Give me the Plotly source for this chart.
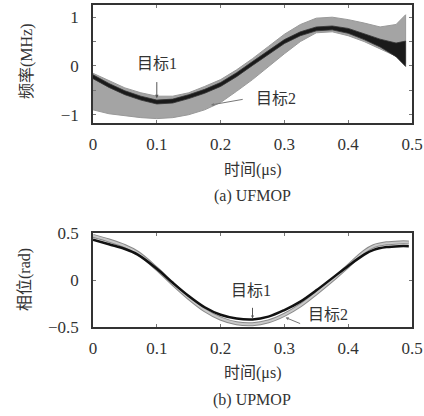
import plotly.graph_objects as go

# ---------- data ----------
# (a) frequency, MHz
t_f = [0, 0.025, 0.05, 0.075, 0.1, 0.125, 0.15, 0.175, 0.2, 0.225, 0.25, 0.275,
       0.3, 0.325, 0.35, 0.375, 0.4, 0.425, 0.45, 0.475, 0.49]
f1_mid = [-0.22, -0.40, -0.55, -0.66, -0.74, -0.72, -0.63, -0.52, -0.38, -0.18, 0.05, 0.28,
          0.50, 0.66, 0.76, 0.78, 0.72, 0.60, 0.47, 0.33, 0.25]
f1_spread = [0.04, 0.04, 0.04, 0.04, 0.04, 0.04, 0.04, 0.04, 0.04, 0.04, 0.04, 0.04,
             0.04, 0.04, 0.04, 0.04, 0.05, 0.06, 0.08, 0.14, 0.26]
f2_upper = [-0.15, -0.30, -0.45, -0.55, -0.62, -0.62, -0.55, -0.42, -0.28, -0.08, 0.15, 0.40,
            0.65, 0.85, 0.98, 1.00, 0.95, 0.88, 0.80, 0.85, 1.05]
f2_lower = [-0.90, -0.98, -1.02, -1.06, -1.08, -1.06, -1.00, -0.90, -0.75, -0.52, -0.28, -0.02,
            0.25, 0.50, 0.68, 0.70, 0.62, 0.50, 0.35, 0.20, 0.05]

# (b) phase, rad
t_p = [0, 0.025, 0.05, 0.07, 0.1, 0.125, 0.15, 0.175, 0.2, 0.225, 0.25, 0.275,
       0.3, 0.325, 0.35, 0.375, 0.4, 0.425, 0.44, 0.46, 0.48, 0.495]
p1 = [0.43, 0.38, 0.33, 0.27, 0.12, -0.03, -0.17, -0.29, -0.37, -0.41, -0.42, -0.39,
      -0.32, -0.23, -0.11, 0.02, 0.15, 0.27, 0.32, 0.35, 0.36, 0.36]
p2 = [0.47, 0.42, 0.36, 0.29, 0.12, -0.04, -0.19, -0.32, -0.41, -0.46, -0.47, -0.44,
      -0.37, -0.27, -0.14, 0.00, 0.15, 0.30, 0.36, 0.39, 0.40, 0.40]

x_ticks = [0, 0.1, 0.2, 0.3, 0.4, 0.5]
x_ticktext = ["0", "0.1", "0.2", "0.3", "0.4", "0.5"]
yf_ticks = [-1, -0.5, 0, 0.5, 1]
yf_ticktext = ["\u22121", "", "0", "", "1"]
yp_ticks = [-0.5, 0, 0.5]
yp_ticktext = ["\u22120.5", "0", "0.5"]

labels = ["目标1", "目标2"]

# ---------- figure ----------
FONT = "Liberation Serif, Noto Sans CJK SC, serif"
GRAY = "#a4a4a4"

fig = go.Figure()

# gray band (目标2), frequency
fig.add_trace(go.Scatter(
    x=t_f + t_f[::-1], y=f2_upper + f2_lower[::-1],
    fill="toself", fillcolor=GRAY, line=dict(color="#999999", width=1),
    mode="lines", xaxis="x", yaxis="y", hoverinfo="skip", name=labels[1]))
# black band (目标1), frequency
f1_up = [m + s for m, s in zip(f1_mid, f1_spread)]
f1_lo = [m - s for m, s in zip(f1_mid, f1_spread)]
fig.add_trace(go.Scatter(
    x=t_f + t_f[::-1], y=f1_up + f1_lo[::-1],
    fill="toself", fillcolor="#1a1a1a", line=dict(color="#333333", width=0.8),
    mode="lines", xaxis="x", yaxis="y", hoverinfo="skip", name=labels[0]))

# phase lines
fig.add_trace(go.Scatter(x=t_p, y=p2, mode="lines",
                         line=dict(color="#8a8a8a", width=4, shape="spline"),
                         xaxis="x2", yaxis="y2", name=labels[1]))
fig.add_trace(go.Scatter(x=t_p, y=p2, mode="lines",
                         line=dict(color="#c8c8c8", width=2, shape="spline"),
                         xaxis="x2", yaxis="y2", name=labels[1]))
fig.add_trace(go.Scatter(x=t_p, y=p1, mode="lines",
                         line=dict(color="#111111", width=2.5, shape="spline"),
                         xaxis="x2", yaxis="y2", name=labels[0]))

axis_common = dict(showline=True, linecolor="#333", linewidth=1.5, mirror="ticks",
                   ticks="inside", ticklen=3, tickcolor="#777", showgrid=False,
                   zeroline=False, tickfont=dict(family=FONT, size=17, color="#333"),
                   automargin=False)

dom_x = [93 / 424, 412 / 424]
fig.update_layout(
    width=424, height=416,
    margin=dict(l=0, r=0, t=0, b=0, autoexpand=False),
    paper_bgcolor="white", plot_bgcolor="white",
    showlegend=False,
    font=dict(family=FONT, color="#333"),
    xaxis=dict(domain=dom_x, range=[0, 0.5], tickvals=x_ticks, ticktext=x_ticktext,
               anchor="y", ticklabeloverflow="allow", ticklabelstandoff=5, **axis_common),
    yaxis=dict(domain=[1 - 123 / 416, 1 - 5 / 416], range=[-1.17, 1.25],
               tickvals=yf_ticks, ticktext=yf_ticktext, anchor="x",
               ticklabelstandoff=9, **axis_common),
    xaxis2=dict(domain=dom_x, range=[0, 0.5], tickvals=x_ticks, ticktext=x_ticktext,
                anchor="y2", ticklabeloverflow="allow", ticklabelstandoff=5, **axis_common),
    yaxis2=dict(domain=[1 - 327 / 416, 1 - 233 / 416], range=[-0.5, 0.5],
                tickvals=yp_ticks, ticktext=yp_ticktext, anchor="x2",
                ticklabelstandoff=9, **axis_common),
)

ann_font = dict(family=FONT, size=16, color="#333")
C = dict(xanchor="center", yanchor="middle", showarrow=False, font=ann_font)
anns = [
    # axis titles and captions
    dict(text="时间(μs)", x=252 / 424, y=1 - 170 / 416, xref="paper", yref="paper", **C),
    dict(text="(a) UFMOP", x=252 / 424, y=1 - 196 / 416, xref="paper", yref="paper", **C),
    dict(text="时间(μs)", x=252 / 424, y=1 - 373 / 416, xref="paper", yref="paper", **C),
    dict(text="(b) UPMOP", x=252 / 424, y=1 - 400 / 416, xref="paper", yref="paper", **C),
    dict(text="频率(MHz)", x=27 / 424, y=1 - 61 / 416, xref="paper", yref="paper",
         textangle=-90, **C),
    dict(text="相位(rad)", x=25 / 424, y=1 - 280 / 416, xref="paper", yref="paper",
         textangle=-90, **C),
    # top labels
    dict(text=labels[0], x=0.1, y=0.06, xref="x", yref="y", **C),
    dict(text="", x=0.1, y=-0.66, ax=0.1, ay=-0.3, xref="x", yref="y", axref="x", ayref="y",
         showarrow=True, arrowhead=2, arrowsize=0.7, arrowwidth=1, arrowcolor="#555"),
    dict(text=labels[1], x=0.287, y=-0.66, xref="x", yref="y", **C),
    dict(text="", x=0.185, y=-0.80, ax=0.237, ay=-0.68, xref="x", yref="y", axref="x", ayref="y",
         showarrow=True, arrowhead=2, arrowsize=0.6, arrowwidth=1, arrowcolor="#777"),
    # bottom labels
    dict(text=labels[0], x=0.248, y=-0.11, xref="x2", yref="y2", **C),
    dict(text="", x=0.25, y=-0.41, ax=0.25, ay=-0.28, xref="x2", yref="y2", axref="x2", ayref="y2",
         showarrow=True, arrowhead=2, arrowsize=0.6, arrowwidth=1, arrowcolor="#555"),
    dict(text=labels[1], x=0.368, y=-0.37, xref="x2", yref="y2", **C),
    dict(text="", x=0.302, y=-0.40, ax=0.327, ay=-0.47, xref="x2", yref="y2", axref="x2", ayref="y2",
         showarrow=True, arrowhead=2, arrowsize=0.6, arrowwidth=1, arrowcolor="#777"),
]
fig.update_layout(annotations=anns)

fig.write_html("out.html", config={"displayModeBar": False},
               post_script="document.body.style.margin='0';")
